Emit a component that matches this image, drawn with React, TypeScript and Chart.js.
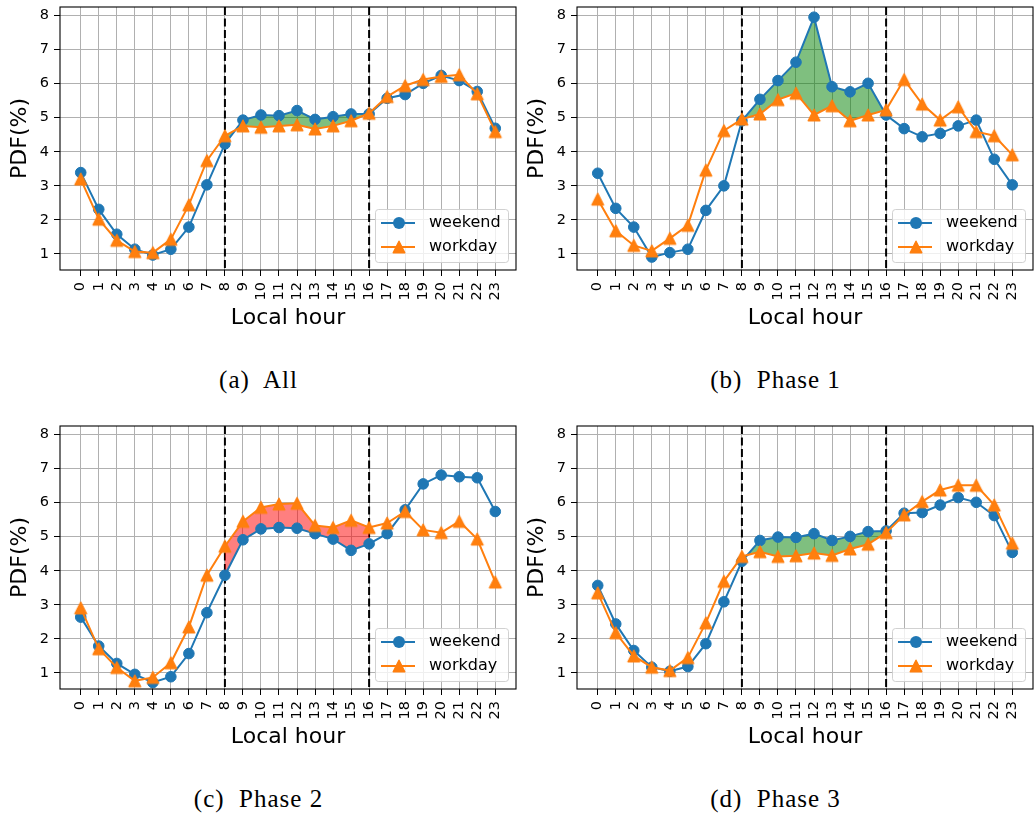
import React, { useEffect, useRef } from "react";
import { Chart, registerables } from "chart.js";

Chart.register(...registerables);

const HOURS = [0, 1, 2, 3, 4, 5, 6, 7, 8, 9, 10, 11, 12, 13, 14, 15, 16, 17, 18, 19, 20, 21, 22, 23];
const Y_TICKS = [1, 2, 3, 4, 5, 6, 7, 8];
const PHASE_BOUNDS = [8, 16];
const SERIES_LABELS = ["weekend", "workday"];
const X_LABEL = "Local hour";
const Y_LABEL = "PDF(%)";
const CAPTIONS = ["(a)  All", "(b)  Phase 1", "(c)  Phase 2", "(d)  Phase 3"];

const WEEKEND_ALL = [3.39, 2.31, 1.58, 1.14, 0.97, 1.14, 1.79, 3.03, 4.23, 4.93, 5.08, 5.06, 5.21, 4.95, 5.03, 5.11, 5.11, 5.57, 5.68, 6.01, 6.24, 6.09, 5.77, 4.69];
const WORKDAY_ALL = [3.2, 2.02, 1.4, 1.07, 1.04, 1.43, 2.44, 3.74, 4.47, 4.76, 4.72, 4.76, 4.79, 4.67, 4.76, 4.91, 5.13, 5.62, 5.94, 6.12, 6.21, 6.26, 5.7, 4.59];

const WEEKEND_P1 = [3.37, 2.34, 1.79, 0.91, 1.04, 1.14, 2.28, 3.0, 4.91, 5.54, 6.09, 6.63, 7.95, 5.91, 5.76, 6.01, 5.08, 4.68, 4.44, 4.54, 4.76, 4.93, 3.78, 3.03];
const WORKDAY_P1 = [2.61, 1.68, 1.25, 1.09, 1.46, 1.84, 3.46, 4.62, 4.96, 5.11, 5.53, 5.72, 5.08, 5.35, 4.91, 5.08, 5.23, 6.12, 5.4, 4.93, 5.32, 4.59, 4.47, 3.91];

const WEEKEND_P2 = [2.64, 1.79, 1.28, 0.96, 0.72, 0.89, 1.57, 2.77, 3.87, 4.91, 5.23, 5.27, 5.25, 5.09, 4.93, 4.6, 4.79, 5.09, 5.79, 6.55, 6.81, 6.76, 6.73, 5.74];
const WORKDAY_P2 = [2.91, 1.71, 1.16, 0.77, 0.87, 1.3, 2.35, 3.87, 4.72, 5.45, 5.86, 5.96, 5.98, 5.33, 5.27, 5.48, 5.27, 5.4, 5.74, 5.2, 5.12, 5.45, 4.93, 3.67];

const WEEKEND_P3 = [3.57, 2.44, 1.66, 1.17, 1.05, 1.19, 1.86, 3.09, 4.28, 4.89, 4.99, 4.98, 5.09, 4.89, 5.01, 5.15, 5.17, 5.69, 5.71, 5.93, 6.15, 6.01, 5.62, 4.54];
const WORKDAY_P3 = [3.35, 2.18, 1.5, 1.17, 1.07, 1.45, 2.47, 3.69, 4.42, 4.56, 4.42, 4.44, 4.52, 4.45, 4.64, 4.78, 5.12, 5.64, 6.03, 6.37, 6.51, 6.51, 5.93, 4.81];

const FILL_COLORS = ["rgba(0,128,0,0.5)", "rgba(0,128,0,0.5)", "rgba(255,0,0,0.5)", "rgba(0,128,0,0.5)"];

const BLUE = "#1f77b4";
const ORANGE = "#ff7f0e";
const GRID = "#b0b0b0";
const SANS = "DejaVu Sans";

const X_MIN = -1.15;
const X_MAX = 24.15;
const Y_MIN = 0.53;
const Y_MAX = 8.25;

const CANVAS_W = 517;
const CANVAS_H = 335;
const ROW_OFFSET = 419;

function makeTriangle(color: string): HTMLCanvasElement {
  const c = document.createElement("canvas");
  c.width = 16;
  c.height = 16;
  const g = c.getContext("2d")!;
  g.fillStyle = color;
  g.strokeStyle = color;
  g.lineWidth = 1.4;
  g.lineJoin = "round";
  g.beginPath();
  g.moveTo(8, 2.2);
  g.lineTo(13.8, 13.8);
  g.lineTo(2.2, 13.8);
  g.closePath();
  g.fill();
  g.stroke();
  return c;
}

function Panel(props: { weekend: number[]; workday: number[]; fillColor: string; caption: string; left: number; top: number }) {
  const ref = useRef<HTMLCanvasElement>(null);
  useEffect(() => {
    const canvas = ref.current!;
    const tri = makeTriangle(ORANGE);
    const toPts = (arr: number[]) => HOURS.map((h, i) => ({ x: h, y: arr[i] }));
    const inWin = (arr: number[]) =>
      HOURS.map((h, i) => ({ x: h, y: h >= PHASE_BOUNDS[0] && h <= PHASE_BOUNDS[1] ? arr[i] : null }));

    const decor = {
      id: "decor",
      beforeDatasetsDraw(chart: any) {
        const { ctx, chartArea } = chart;
        const xs = chart.scales.x;
        ctx.save();
        ctx.strokeStyle = "#000";
        ctx.lineWidth = 2;
        ctx.setLineDash([8, 3.5]);
        PHASE_BOUNDS.forEach((b) => {
          const px = xs.getPixelForValue(b);
          ctx.beginPath();
          ctx.moveTo(px, chartArea.top);
          ctx.lineTo(px, chartArea.bottom);
          ctx.stroke();
        });
        ctx.restore();
      },
      afterDatasetsDraw(chart: any) {
        const { ctx, chartArea } = chart;
        ctx.save();
        ctx.strokeStyle = "#000";
        ctx.lineWidth = 1.1;
        ctx.strokeRect(chartArea.left, chartArea.top, chartArea.right - chartArea.left, chartArea.bottom - chartArea.top);
        ctx.restore();
      },
      afterDraw(chart: any) {
        const { ctx, chartArea } = chart;
        const bw = 133;
        const bh = 53;
        const bx = chartArea.right - 8 - bw;
        const by = chartArea.bottom - 8 - bh;
        ctx.save();
        ctx.beginPath();
        ctx.roundRect(bx + 0.5, by + 0.5, bw, bh, 3);
        ctx.fillStyle = "rgba(255,255,255,0.8)";
        ctx.fill();
        ctx.strokeStyle = "rgba(204,204,204,0.9)";
        ctx.lineWidth = 1;
        ctx.stroke();
        const rows = [by + 14, by + 38];
        [0, 1].forEach((k) => {
          const ds = chart.data.datasets[k];
          const y = rows[k];
          ctx.strokeStyle = ds.borderColor;
          ctx.lineWidth = 2;
          ctx.beginPath();
          ctx.moveTo(bx + 6, y);
          ctx.lineTo(bx + 40, y);
          ctx.stroke();
          if (k === 0) {
            ctx.fillStyle = ds.backgroundColor;
            ctx.beginPath();
            ctx.arc(bx + 24, y, 6, 0, Math.PI * 2);
            ctx.fill();
          } else {
            ctx.drawImage(tri, bx + 24 - 8, y - 8);
          }
          ctx.fillStyle = "#000";
          ctx.font = `16px "${SANS}"`;
          ctx.textBaseline = "middle";
          ctx.textAlign = "left";
          ctx.fillText(ds.label, bx + 54, y);
        });
        ctx.restore();
      },
    };

    const tickFont = { family: SANS, size: 14.5 };
    const titleFont = { family: SANS, size: 22 };

    const chart = new Chart(canvas, {
      type: "line",
      data: {
        datasets: [
          {
            label: SERIES_LABELS[0],
            data: toPts(props.weekend),
            borderColor: BLUE,
            backgroundColor: BLUE,
            borderWidth: 2,
            pointStyle: "circle",
            pointRadius: 5.3,
            pointBorderWidth: 1,
            pointBorderColor: BLUE,
            pointBackgroundColor: BLUE,
            fill: false,
            order: 2,
          },
          {
            label: SERIES_LABELS[1],
            data: toPts(props.workday),
            borderColor: ORANGE,
            backgroundColor: ORANGE,
            borderWidth: 2,
            pointStyle: tri as any,
            pointRadius: 6,
            fill: false,
            order: 1,
          },
          {
            label: "fill-upper",
            data: inWin(props.weekend),
            borderColor: "rgba(0,0,0,0)",
            borderWidth: 0,
            pointRadius: 0,
            fill: { target: "+1", above: props.fillColor, below: props.fillColor },
            order: 4,
          },
          {
            label: "fill-lower",
            data: inWin(props.workday),
            borderColor: "rgba(0,0,0,0)",
            borderWidth: 0,
            pointRadius: 0,
            fill: false,
            order: 3,
          },
        ] as any,
      },
      options: {
        animation: false,
        responsive: false,
        events: [],
        layout: { autoPadding: false, padding: { left: 0, right: 1, top: 7, bottom: 0 } },
        plugins: { legend: { display: false }, tooltip: { enabled: false } },
        scales: {
          x: {
            type: "linear",
            min: X_MIN,
            max: X_MAX,
            afterBuildTicks: (s: any) => {
              s.ticks = HOURS.map((v) => ({ value: v }));
            },
            afterFit: (s: any) => {
              s.height = CANVAS_H - 270;
              s.paddingLeft = 0;
              s.paddingRight = 0;
            },
            ticks: {
              autoSkip: false,
              minRotation: 90,
              maxRotation: 90,
              padding: 6,
              color: "#000",
              font: tickFont,
              callback: (v: any) => String(v),
            },
            grid: { color: GRID, lineWidth: 1, tickLength: 6, tickColor: "#000", tickWidth: 1, drawTicks: true },
            border: { display: false },
            title: { display: true, text: X_LABEL, color: "#000", font: titleFont, padding: { top: 0, bottom: 4 } },
          },
          y: {
            min: Y_MIN,
            max: Y_MAX,
            afterBuildTicks: (s: any) => {
              s.ticks = Y_TICKS.map((v) => ({ value: v }));
            },
            afterFit: (s: any) => {
              s.width = 60;
              s.paddingTop = 0;
              s.paddingBottom = 0;
            },
            ticks: { padding: 5, color: "#000", font: tickFont, callback: (v: any) => String(v) },
            grid: { color: GRID, lineWidth: 1, tickLength: 6, tickColor: "#000", tickWidth: 1, drawTicks: true },
            border: { display: false },
            title: { display: true, text: Y_LABEL, color: "#000", font: titleFont, padding: { top: 7, bottom: 0 } },
          },
        },
      } as any,
      plugins: [decor as any],
    });
    return () => chart.destroy();
  }, []);

  return (
    <div style={{ position: "absolute", left: props.left, top: props.top, width: CANVAS_W, height: 400 }}>
      <canvas ref={ref} width={CANVAS_W} height={CANVAS_H} style={{ display: "block", width: CANVAS_W, height: CANVAS_H }} />
      <div
        style={{
          position: "absolute",
          left: 0,
          top: 367,
          width: CANVAS_W,
          textAlign: "center",
          fontFamily: '"Liberation Serif", serif',
          fontSize: 25,
          letterSpacing: "1px",
          lineHeight: "25px",
          color: "#000",
          whiteSpace: "pre",
        }}
      >
        {props.caption}
      </div>
    </div>
  );
}

export default function App() {
  const panels = [
    { weekend: WEEKEND_ALL, workday: WORKDAY_ALL },
    { weekend: WEEKEND_P1, workday: WORKDAY_P1 },
    { weekend: WEEKEND_P2, workday: WORKDAY_P2 },
    { weekend: WEEKEND_P3, workday: WORKDAY_P3 },
  ];
  return (
    <div style={{ position: "absolute", left: 0, top: 0, width: 1034, height: 813, background: "#fff", overflow: "hidden" }}>
      {panels.map((p, i) => (
        <Panel
          key={i}
          weekend={p.weekend}
          workday={p.workday}
          fillColor={FILL_COLORS[i]}
          caption={CAPTIONS[i]}
          left={(i % 2) * CANVAS_W}
          top={Math.floor(i / 2) * ROW_OFFSET}
        />
      ))}
    </div>
  );
}
